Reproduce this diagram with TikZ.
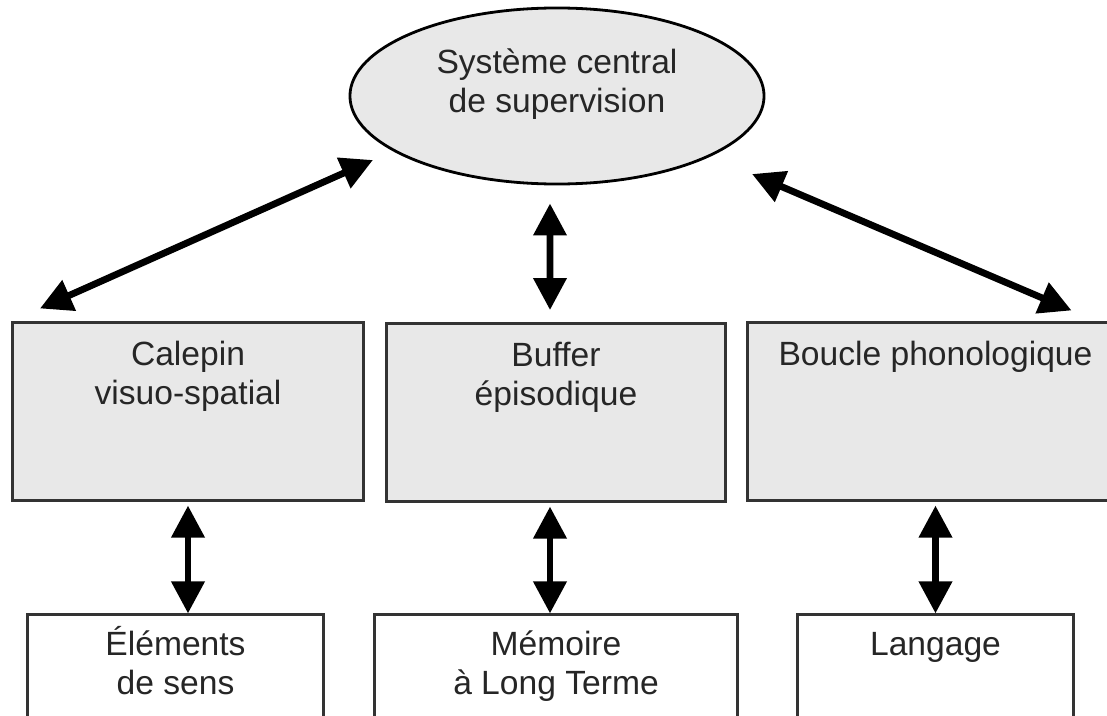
\documentclass[tikz,border=0pt]{standalone}
\usepackage{fontspec}
\setmainfont{Liberation Sans}
\usetikzlibrary{arrows.meta,shapes.geometric,calc}
\definecolor{BoxClr}{gray}{0.91}
\definecolor{LineClr}{gray}{0.2}

\begin{document}
\begin{tikzpicture}[x=0.025cm,y=-0.025cm]
\tikzset{
  txt/.style={font=\fontsize{23.9}{27.7}\selectfont, align=center, inner sep=0pt, text=black!85},
  topbox/.style={draw=LineClr, fill=BoxClr, line width=0.075cm, minimum height=4.425cm},
  lowbox/.style={draw=LineClr, fill=white, line width=0.075cm, minimum height=3cm},
  dbl/.style={line width=0.17cm, {Triangle[length=0.8cm,width=0.8cm]}-{Triangle[length=0.8cm,width=0.8cm]}}
}
\useasboundingbox (0,0) rectangle (1107,716);
\fill[white] (0,0) rectangle (1107,716);

% central ellipse
\node[ellipse, draw=black, fill=BoxClr, line width=0.07cm, minimum width=10.35cm, minimum height=4.4cm,
  label={[txt,yshift=0.3cm]center:Système central\\de supervision}] (sup) at (557,96) {};

% upper row
\node[topbox, minimum width=8.75cm,
  label={[txt,anchor=north,yshift=-0.375cm]north:\vphantom{É}Calepin\\visuo-spatial}] (calepin) at (188,411.5) {};
\node[topbox, minimum width=8.45cm,
  label={[txt,anchor=north,yshift=-0.375cm]north:\vphantom{É}Buffer\\épisodique}] (buffer) at (556,412.5) {};
\node[topbox, minimum width=9.375cm,
  label={[txt,anchor=north,yshift=-0.375cm]north:\vphantom{É}Boucle phonologique}] (boucle) at (935.5,411.5) {};

% lower row
\node[lowbox, minimum width=7.375cm,
  label={[txt,anchor=north,yshift=-0.325cm]north:\vphantom{É}Éléments\\de sens}] (elements) at (175.5,675) {};
\node[lowbox, minimum width=9.05cm,
  label={[txt,anchor=north,yshift=-0.325cm]north:\vphantom{É}Mémoire\\à Long Terme}] (memoire) at (556,675) {};
\node[lowbox, minimum width=6.875cm,
  label={[txt,anchor=north,yshift=-0.325cm]north:\vphantom{É}Langage}] (langage) at (935.5,675) {};

% connectors
\draw[dbl] ([shift={(-3.7cm,0.325cm)}]calepin.north) -- ([shift={(-4.6cm,-1.6cm)}]sup.center);
\draw[dbl] ([shift={(4.875cm,-1.95cm)}]sup.center) -- ([shift={(3.4cm,0.275cm)}]boucle.north);
\draw[dbl] ([shift={(-0.175cm,-0.45cm)}]sup.south) -- ([shift={(-0.15cm,0.31cm)}]buffer.north);

\draw[dbl] ([yshift=-0.1cm]calepin.south) -- (calepin.south |- elements.north);
\draw[dbl] ([shift={(-0.15cm,-0.1cm)}]buffer.south) -- ([xshift=-0.15cm]buffer.south |- memoire.north);
\draw[dbl] ([yshift=-0.1cm]boucle.south) -- (boucle.south |- langage.north);
\end{tikzpicture}
\end{document}
